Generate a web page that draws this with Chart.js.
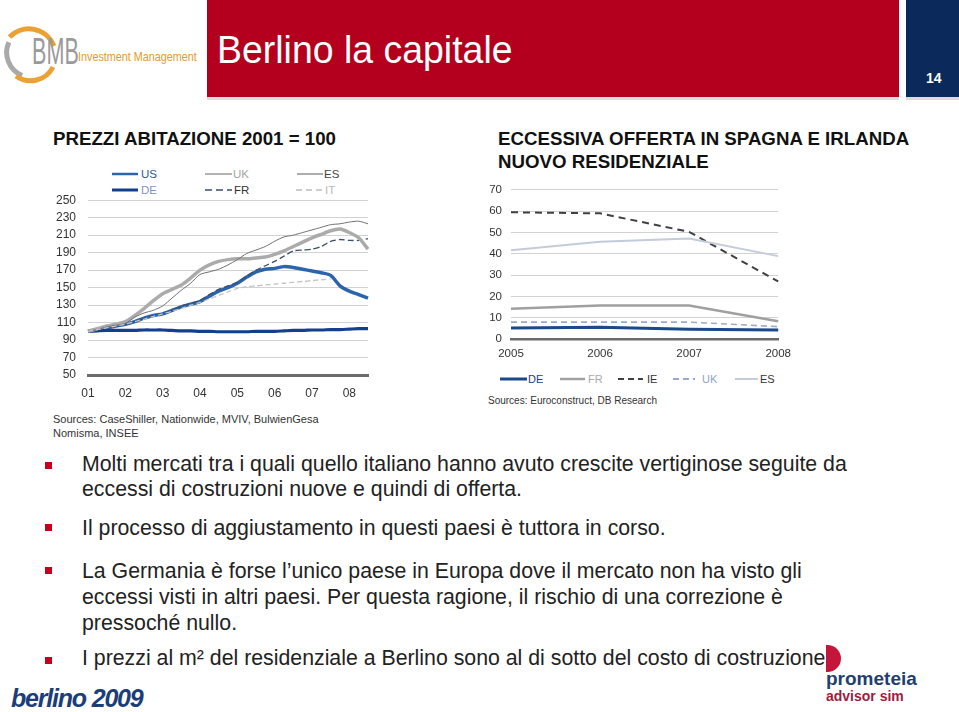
<!DOCTYPE html>
<html><head><meta charset="utf-8">
<script src="https://cdn.jsdelivr.net/npm/chart.js@4.4.0/dist/chart.umd.min.js"></script>
<style>
html,body{margin:0;padding:0;background:#fff;}
body{width:959px;height:712px;overflow:hidden;position:relative;font-family:"Liberation Sans",Arial,Helvetica,sans-serif;color:#1a1a1a;}
.abs{position:absolute;white-space:nowrap;}
.bl{position:absolute;white-space:nowrap;font-size:21.3px;line-height:24px;color:#222;left:82px;}
.sq{position:absolute;left:45px;width:7px;height:7px;background:#C4001E;}
.ttl{position:absolute;white-space:nowrap;font-weight:bold;font-size:18.7px;line-height:18.7px;color:#111;}
.lg{position:absolute;white-space:nowrap;font-size:11.5px;line-height:12px;}
canvas{position:absolute;}
</style></head><body>

<!-- header -->
<div class="abs" style="left:207px;top:0;width:692px;height:97px;background:#B4001E;"></div>
<div class="abs" style="left:207px;top:97px;width:692px;height:3px;background:#dcdcdc;"></div>
<div class="abs" style="left:906px;top:0;width:53px;height:97px;background:#0B2A5B;"></div>
<div class="abs" style="left:906px;top:97px;width:53px;height:3px;background:#dcdcdc;"></div>
<div class="abs" style="left:217px;top:30px;font-size:39px;line-height:40px;color:#fff;transform:scaleX(0.96);transform-origin:left top;">Berlino la capitale</div>
<div class="abs" style="left:926px;top:70px;font-size:14px;line-height:16px;color:#fff;font-weight:bold;">14</div>

<!-- BMB logo -->
<svg class="abs" style="left:0;top:24px;" width="80" height="62">
  <path d="M 22.1 51.6 A 25 25 0 0 1 8.9 18.2" fill="none" stroke="#A9A9A9" stroke-width="5"/>
  <path d="M 9.5 13 A 27 27 0 0 1 54 22" fill="none" stroke="#EBA133" stroke-width="5"/>
  <path d="M 53 43 A 25 25 0 0 1 16 52" fill="none" stroke="#EBA133" stroke-width="5"/>
</svg>
<div class="abs" style="left:32px;top:34px;font-size:36px;line-height:36px;color:#9A9A9A;transform:scaleX(0.6);transform-origin:left top;">BMB</div>
<div class="abs" style="left:78px;top:50px;font-size:13px;line-height:14px;color:#E39B2E;transform:scaleX(0.83);transform-origin:left top;">Investment Management</div>

<!-- chart titles -->
<div class="ttl" style="left:53px;top:130px;">PREZZI ABITAZIONE 2001 = 100</div>
<div class="ttl" style="left:498px;top:130px;">ECCESSIVA OFFERTA IN SPAGNA E IRLANDA</div>
<div class="ttl" style="left:498px;top:153px;">NUOVO RESIDENZIALE</div>

<!-- left legend -->
<svg class="abs" style="left:0;top:0;" width="480" height="200">
  <line x1="112" y1="174" x2="138" y2="174" stroke="#2B64AC" stroke-width="2.5"/>
  <line x1="205" y1="174" x2="232" y2="174" stroke="#ABABAB" stroke-width="1.8"/>
  <line x1="297" y1="174" x2="323" y2="174" stroke="#777777" stroke-width="1.2"/>
  <line x1="112" y1="190" x2="138" y2="190" stroke="#143F8F" stroke-width="3"/>
  <line x1="205" y1="190" x2="232" y2="190" stroke="#3B4E6B" stroke-width="1.5" stroke-dasharray="7,4"/>
  <line x1="296" y1="190" x2="323" y2="190" stroke="#BDBDBD" stroke-width="1.3" stroke-dasharray="6,4"/>
</svg>
<div class="lg" style="left:141px;top:168px;color:#2B5797;">US</div>
<div class="lg" style="left:233px;top:168px;color:#A5A5A5;">UK</div>
<div class="lg" style="left:324px;top:168px;color:#444;">ES</div>
<div class="lg" style="left:141px;top:184px;color:#7F96BF;">DE</div>
<div class="lg" style="left:234px;top:184px;color:#333;">FR</div>
<div class="lg" style="left:325px;top:184px;color:#BBBBBB;">IT</div>

<canvas id="left" width="339" height="221" style="left:40px;top:181px;"></canvas>
<canvas id="right" width="329" height="194" style="left:470px;top:174px;"></canvas>

<!-- right legend -->
<svg class="abs" style="left:480px;top:370px;" width="300" height="20">
  <line x1="20" y1="9" x2="47" y2="9" stroke="#1A4A8A" stroke-width="3"/>
  <line x1="80" y1="9" x2="105" y2="9" stroke="#A0A0A0" stroke-width="2.5"/>
  <line x1="138" y1="9" x2="163" y2="9" stroke="#404040" stroke-width="2" stroke-dasharray="6,4"/>
  <line x1="193" y1="9" x2="215" y2="9" stroke="#9AAACC" stroke-width="2" stroke-dasharray="6,4"/>
  <line x1="255" y1="9" x2="278" y2="9" stroke="#C3CCDA" stroke-width="2"/>
</svg>
<div class="lg" style="left:528px;top:373px;font-size:11px;color:#1A3F7F;">DE</div>
<div class="lg" style="left:588px;top:373px;font-size:11px;color:#AAAAAA;">FR</div>
<div class="lg" style="left:647px;top:373px;font-size:11px;color:#333;">IE</div>
<div class="lg" style="left:702px;top:373px;font-size:11px;color:#8FA3C8;">UK</div>
<div class="lg" style="left:760px;top:373px;font-size:11px;color:#333;">ES</div>

<!-- sources -->
<div class="abs" style="left:53px;top:413px;font-size:11px;line-height:13px;color:#333;">Sources: CaseShiller, Nationwide, MVIV, BulwienGesa</div>
<div class="abs" style="left:53px;top:427px;font-size:11px;line-height:13px;color:#333;">Nomisma, INSEE</div>
<div class="abs" style="left:488px;top:395px;font-size:10px;line-height:12px;color:#333;">Sources: Euroconstruct, DB Research</div>

<!-- bullets -->
<div class="sq" style="top:462px;"></div>
<div class="bl" style="top:452px;">Molti mercati tra i quali quello italiano hanno avuto crescite vertiginose seguite da</div>
<div class="bl" style="top:477px;">eccessi di costruzioni nuove e quindi di offerta.</div>
<div class="sq" style="top:524px;"></div>
<div class="bl" style="top:516px;">Il processo di aggiustamento in questi paesi è tuttora in corso.</div>
<div class="sq" style="top:567px;"></div>
<div class="bl" style="top:559px;">La Germania è forse l’unico paese in Europa dove il mercato non ha visto gli</div>
<div class="bl" style="top:585px;">eccessi visti in altri paesi. Per questa ragione, il rischio di una correzione è</div>
<div class="bl" style="top:611px;">pressoché nullo.</div>
<div class="sq" style="top:657px;"></div>
<div class="bl" style="top:646px;">I prezzi al m² del residenziale a Berlino sono al di sotto del costo di costruzione.</div>

<!-- footer logos -->
<div class="abs" style="left:826px;top:645px;width:15px;height:27px;background:#C4163A;border-radius:0 14px 14px 0;"></div>
<div class="abs" style="left:826px;top:669px;font-size:19px;line-height:20px;font-weight:bold;color:#1F3F6E;">prometeia</div>
<div class="abs" style="left:826px;top:689px;font-size:14px;line-height:15px;font-weight:bold;color:#A01C3C;">advisor sim</div>
<div class="abs" style="left:11px;top:685px;font-size:25px;line-height:26px;font-weight:900;font-style:italic;color:#1B3E7A;letter-spacing:-1.2px;">berlino 2009</div>

<script>
// ---------- left chart data: house prices, 2001 = 100 (quarterly) ----------
const priceQuarters = ['01Q1','01Q2','01Q3','01Q4','02Q1','02Q2','02Q3','02Q4','03Q1','03Q2','03Q3','03Q4',
  '04Q1','04Q2','04Q3','04Q4','05Q1','05Q2','05Q3','05Q4','06Q1','06Q2','06Q3','06Q4',
  '07Q1','07Q2','07Q3','07Q4','08Q1','08Q2','08Q3'];
const priceYearTicks = ['01','02','03','04','05','06','07','08'];
const pricesUS = [100,102,104,106, 108,111,115,118, 120,124,128,131, 134,140,146,150, 155,162,168,171, 172,174,173,171, 169,167,164,152, 146,142,138];
const pricesDE = [100,100.5,101,101, 101,101,101.5,101.5, 101.5,101,100.5,100.5, 100,100,99.5,99.5, 99.5,99.5,100,100, 100,100.5,101,101, 101.5,101.5,102,102, 102.5,103,103];
const pricesUK = [100,103,106,108, 111,118,126,135, 143,148,153,161, 170,176,180,182, 183,183,184,185, 188,192,197,202, 207,211,215,217, 213,207,194];
const pricesES = [100,102,105,107, 109,116,121,124, 129,138,147,155, 165,168,171,176, 182,189,193,197, 203,208,210,213, 216,219,222,223, 225,226,223];
const pricesFR = [100,102,104,106, 108,111,115,118, 120,124,129,132, 135,142,148,152, 156,163,170,175, 180,186,192,193, 194,197,203,205, 204,204,206];
const pricesIT = [100,102,104,106, 108,111,114,117, 120,123,126,130, 133,137,141,145, 149,151,152,153, 154,155,156,157, 158,159,160,null, null,null,null];
const priceTicks = [50,70,90,110,130,150,170,190,210,230,250];

// ---------- right chart data: new residential supply ----------
const supplyYears = ['2005','2006','2007','2008'];
const supplyDE = [5.2,5.5,4.6,4.2];
const supplyFR = [14.2,15.7,15.7,8.3];
const supplyIE = [59.5,59,50.3,27];
const supplyUK = [7.9,7.9,7.9,5.8];
const supplyES = [41.7,45.6,47.2,38.9];
const supplyTicks = [0,10,20,30,40,50,60,70];

Chart.defaults.font.family = '"Liberation Sans", Arial, sans-serif';
Chart.defaults.color = '#333';

function line(data, color, width, dash, tension) {
  return {data, borderColor: color, backgroundColor: color, borderWidth: width, borderDash: dash || [],
    pointRadius: 0, tension: tension, fill: false, spanGaps: false};
}

// move / resize the canvas so that the plot area lands on the wanted box (page coordinates)
function placeArea(chart, canvas, target) {
  for (let k = 0; k < 3; k++) {
    const ca = chart.chartArea;
    const left = target.left - ca.left;
    const top = target.top - ca.top;
    const newW = Math.round(chart.width + (target.right - target.left) - (ca.right - ca.left));
    const newH = Math.round(chart.height + (target.bottom - target.top) - (ca.bottom - ca.top));
    canvas.style.left = left + 'px';
    canvas.style.top = top + 'px';
    if (newW !== chart.width || newH !== chart.height) chart.resize(newW, newH);
  }
}

const leftCanvas = document.getElementById('left');
const leftChart = new Chart(leftCanvas, {
  type: 'line',
  data: {
    labels: priceQuarters,
    datasets: [
      line(pricesIT, '#C4C4C4', 1.3, [5,3], 0.25),
      line(pricesES, '#707070', 1, [], 0.25),
      line(pricesUK, '#ABABAB', 3.5, [], 0.25),
      line(pricesFR, '#3B4E6B', 1.3, [6,3], 0.25),
      line(pricesDE, '#143F8F', 3.2, [], 0.25),
      line(pricesUS, '#2B64AC', 3.5, [], 0.25)
    ]
  },
  options: {
    responsive: false, maintainAspectRatio: false, animation: false, devicePixelRatio: 1,
    layout: {padding: 0},
    plugins: {legend: {display: false}, tooltip: {enabled: false}},
    scales: {
      x: {
        offset: false,
        grid: {display: false, drawTicks: false},
        border: {display: true, color: '#6B6B6B', width: 3},
        ticks: {autoSkip: false, maxRotation: 0, padding: 11, font: {size: 12}, color: '#333',
          callback: (v, i) => (i % 4 === 0 ? priceYearTicks[i / 4] : '')},
        afterFit: s => { s.height = 27; }
      },
      y: {
        min: 50, max: 250,
        afterBuildTicks: s => { s.ticks = priceTicks.map(v => ({value: v})); },
        grid: {color: '#D2D2D2', lineWidth: 1, drawTicks: false},
        border: {display: false},
        ticks: {autoSkip: false, padding: 12, font: {size: 12}, color: '#333'},
        afterFit: s => { s.width = 48; }
      }
    }
  }
});
placeArea(leftChart, leftCanvas, {left: 88, top: 200, right: 368, bottom: 375});

const rightCanvas = document.getElementById('right');
const rightChart = new Chart(rightCanvas, {
  type: 'line',
  data: {
    labels: supplyYears,
    datasets: [
      line(supplyES, '#C3CCDA', 2, [], 0),
      line(supplyFR, '#A0A0A0', 2.5, [], 0),
      line(supplyUK, '#9AAACC', 1.6, [6,4], 0),
      line(supplyDE, '#1A4A8A', 3, [], 0),
      line(supplyIE, '#404040', 2, [7,5], 0)
    ]
  },
  options: {
    responsive: false, maintainAspectRatio: false, animation: false, devicePixelRatio: 1,
    layout: {padding: 0},
    plugins: {legend: {display: false}, tooltip: {enabled: false}},
    scales: {
      x: {
        offset: false,
        grid: {display: false, drawTicks: false},
        border: {display: true, color: '#6B6B6B', width: 2.5},
        ticks: {autoSkip: false, maxRotation: 0, padding: 8, font: {size: 11.5}, color: '#333'},
        afterFit: s => { s.height = 29; }
      },
      y: {
        min: 0, max: 70,
        afterBuildTicks: s => { s.ticks = supplyTicks.map(v => ({value: v})); },
        grid: {color: '#D2D2D2', lineWidth: 1, drawTicks: false},
        border: {display: false},
        ticks: {autoSkip: false, padding: 9, font: {size: 11.5}, color: '#333'},
        afterFit: s => { s.width = 41; }
      }
    }
  }
});
placeArea(rightChart, rightCanvas, {left: 511, top: 190, right: 778, bottom: 339});
</script>
</body></html>
